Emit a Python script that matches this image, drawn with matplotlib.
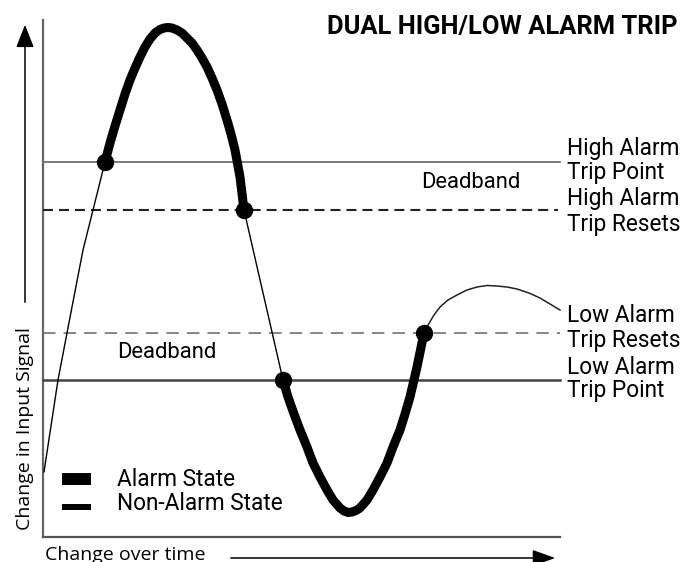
import matplotlib
matplotlib.use("Agg")
import matplotlib.pyplot as plt

plt.rcParams['lines.scale_dashes'] = False

# levels of the input signal (signal units, 0 = bottom axis)
high_trip = 375
high_reset = 327
low_reset = 204
low_trip = 157
time_end = 517

# signal path, split by state
rise_t = [1, 15, 24, 40, 62]
rise_s = [65, 157, 204, 287, 375]

high_alarm_t = [62, 67, 72, 77, 82, 87, 92, 97, 102, 107, 112, 117, 121, 125, 129, 134,
                139, 144, 149, 154, 159, 164, 169, 174, 179, 184, 188, 192, 197, 201]
high_alarm_s = [375, 394, 411, 427, 443, 457, 469, 480, 490, 498, 504, 507.5, 509, 509.5, 509, 507,
                504, 499, 494, 487, 479, 470, 459, 447, 433, 417, 403, 387, 360, 327]

fall_t = [201, 240]
fall_s = [327, 157]

low_alarm_t = [240, 245, 251, 257, 264, 270, 277, 284, 290, 297, 301, 305, 309, 313,
               317, 324, 330, 337, 344, 350, 357, 362, 367, 374, 381]
low_alarm_s = [157, 140, 123, 107, 90, 74, 60, 47, 37, 29, 26, 24.5, 25, 26.5,
               29, 37, 47, 60, 74, 90, 107, 123, 140, 170, 204]

tail_t = [381, 385, 391, 397, 405, 414, 424, 434, 444, 454, 464, 474, 486, 497, 507, 517]
tail_s = [204, 212, 222, 230, 237, 242, 247, 250, 251.5, 251, 250, 248, 244, 239, 233, 227]

switch_t = [62, 201, 240, 381]
switch_s = [high_trip, high_reset, low_trip, low_reset]

right_labels = ["High Alarm", "Trip Point", "High Alarm", "Trip Resets",
                "Low Alarm", "Trip Resets", "Low Alarm", "Trip Point"]
right_label_s = [389, 365, 338, 313, 222, 197, 170, 147]

fig = plt.figure(figsize=(6.98, 5.62), dpi=100)
ax = fig.add_axes([0, 0, 1, 1])
ax.set_xlim(-43, 655)
ax.set_ylim(-25, 537)
ax.axis('off')

# frame lines
ax.plot([0, 0], [0, 517], color='#666666', lw=1.6)
ax.plot([0, time_end], [0, 0], color='#555555', lw=1.6)

# level lines
ax.plot([0, time_end], [high_trip, high_trip], color='#707070', lw=1.3)
ax.plot([0, time_end - 2], [high_reset, high_reset], color='#222222', lw=1.5, ls=(0, (7.2, 4.3)))
ax.plot([0, time_end], [low_reset, low_reset], color='#666666', lw=1.1, ls=(0, (9.0, 5.8)))
ax.plot([0, time_end], [low_trip, low_trip], color='#444444', lw=1.8)

# signal
thin = dict(color='black', lw=1.0, solid_capstyle='round')
thick = dict(color='black', lw=6.5, solid_capstyle='round', solid_joinstyle='round')
ax.plot(rise_t, rise_s, **thin)
ax.plot(fall_t, fall_s, **thin)
ax.plot(tail_t, tail_s, color='#222222', lw=1.1, solid_joinstyle='round')
ax.plot(high_alarm_t, high_alarm_s, **thick)
ax.plot(low_alarm_t, low_alarm_s, **thick)
ax.plot(switch_t, switch_s, 'o', color='black', ms=11.5)

# axis arrows
ax.annotate('', xy=(-18, 515), xytext=(-18, 232),
            arrowprops=dict(arrowstyle='-|>,head_length=1.4,head_width=0.55',
                            color='black', lw=1.1, mutation_scale=10))
ax.annotate('', xy=(515, -21), xytext=(185, -21),
            arrowprops=dict(arrowstyle='-|>,head_length=1.4,head_width=0.5',
                            color='black', lw=1.1, mutation_scale=10))

ax.text(-18, 108, 'Change in Input Signal', rotation=90, ha='center', va='center',
        fontsize=14, family='Open Sans')
ax.text(2, -22.5, 'Change over time', ha='left', va='baseline',
        fontsize=14, family='Open Sans')

# title
ax.text(635, 510, 'DUAL HIGH/LOW ALARM TRIP', ha='right', va='center',
        fontsize=18.4, family='Roboto', fontweight='bold')

# level labels
for lab, s in zip(right_labels, right_label_s):
    ax.text(524, s, lab, ha='left', va='center', fontsize=16.3, family='Roboto')

ax.text(428, 355, 'Deadband', ha='center', va='center', fontsize=15.8, family='Roboto')
ax.text(124, 184, 'Deadband', ha='center', va='center', fontsize=15.8, family='Roboto')

# state key
ax.plot([19, 48], [58, 58], color='black', lw=8.6, solid_capstyle='butt')
ax.plot([19, 48], [30, 30], color='black', lw=4.3, solid_capstyle='butt')
ax.text(74, 57, 'Alarm State', ha='left', va='center', fontsize=16.3, family='Roboto')
ax.text(74, 33, 'Non-Alarm State', ha='left', va='center', fontsize=16.3, family='Roboto')

fig.savefig('out.png', dpi=100)
